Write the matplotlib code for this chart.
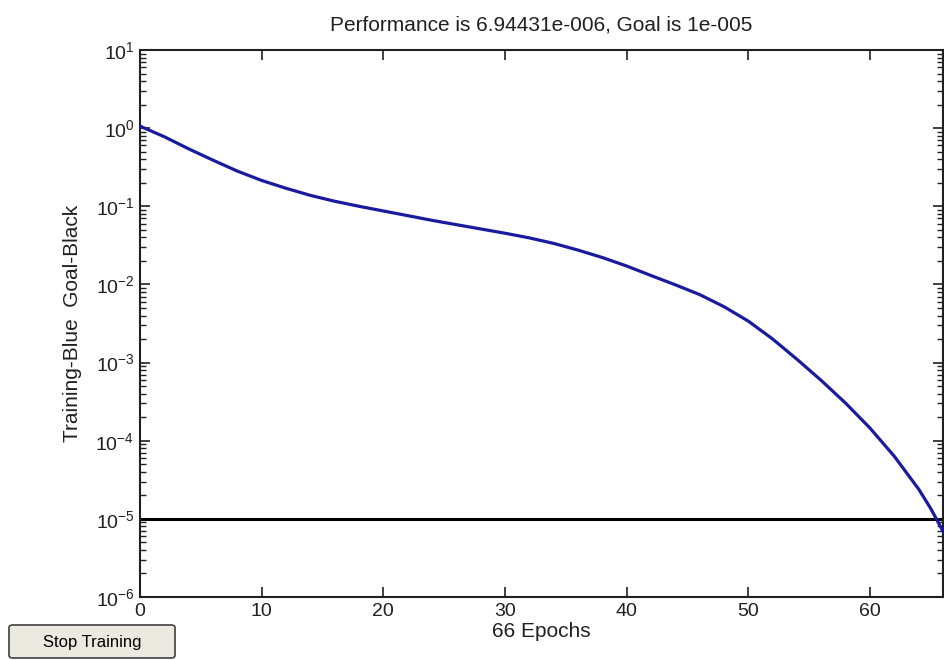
import matplotlib
matplotlib.use("Agg")
import matplotlib.pyplot as plt
import matplotlib.ticker as tkr
from matplotlib.patches import FancyBboxPatch

# ---- data ----
epochs = [0, 2, 4, 6, 8, 10, 12, 14, 16, 18, 20, 22, 24, 26, 28, 30, 32, 34,
          36, 38, 40, 42, 44, 46, 48, 50, 52, 54, 56, 58, 60, 62, 64, 65, 66]
perf = [1.06, 0.776, 0.543, 0.389, 0.282, 0.214, 0.170, 0.138, 0.116, 0.100,
        0.0871, 0.0759, 0.0661, 0.0582, 0.0513, 0.0452, 0.0394, 0.0335, 0.0275,
        0.0221, 0.0172, 0.0130, 0.00989, 0.00741, 0.00519, 0.00339, 0.00200,
        0.00110, 5.89e-4, 3.02e-4, 1.45e-4, 6.31e-5, 2.40e-5, 1.35e-5, 6.94431e-6]
goal = 1e-5
n_epochs = 66
x_ticks = [0, 10, 20, 30, 40, 50, 60]

plt.rcParams['font.family'] = ['Liberation Sans', 'DejaVu Sans']
plt.rcParams['mathtext.fontset'] = 'custom'
plt.rcParams['mathtext.rm'] = 'Liberation Sans'

fig = plt.figure(figsize=(9.44, 6.6), dpi=100)
ax = fig.add_axes([140 / 944, 1 - 597 / 660, 803 / 944, 547 / 660])

# training curve + goal line
ax.semilogy(epochs, perf, color='#1a1a9e', linewidth=2.3, zorder=3,
            solid_joinstyle='round')
ax.axhline(goal, color='black', linewidth=2.2, zorder=2)

ax.set_xlim(0, n_epochs)
ax.set_ylim(1e-6, 1e1)
ax.set_xticks(x_ticks)
ax.yaxis.set_major_locator(tkr.LogLocator(base=10, numticks=10))
ax.yaxis.set_minor_locator(tkr.LogLocator(base=10, subs=range(2, 10), numticks=20))
ax.yaxis.set_minor_formatter(tkr.NullFormatter())

ax.tick_params(which='both', direction='in', top=True, right=True,
               labelsize=14, colors='#202020', pad=4)
ax.tick_params(which='major', length=7, width=1.2)
ax.tick_params(which='minor', length=4, width=1.0)
for s in ax.spines.values():
    s.set_linewidth(1.5)
    s.set_color('#202020')

ax.set_title("Performance is 6.94431e-006, Goal is 1e-005", fontsize=15, pad=14, color='#202020')
ax.set_xlabel("66 Epochs", fontsize=15, labelpad=2, color='#202020')
ax.set_ylabel("Training-Blue  Goal-Black", fontsize=15, labelpad=10, color='#202020')

# "Stop Training" button in the corner
btn = FancyBboxPatch((9 / 944, 2 / 660), 166 / 944, 33 / 660,
                     boxstyle="round,pad=0,rounding_size=0.004",
                     transform=fig.transFigure, facecolor='#ece9e0',
                     edgecolor='#404040', linewidth=1.2)
fig.patches.append(btn)
fig.text(92 / 944, 1 - 642 / 660, "Stop Training", fontsize=12, ha='center', va='center', color='black')

fig.savefig("out.png", dpi=100)
